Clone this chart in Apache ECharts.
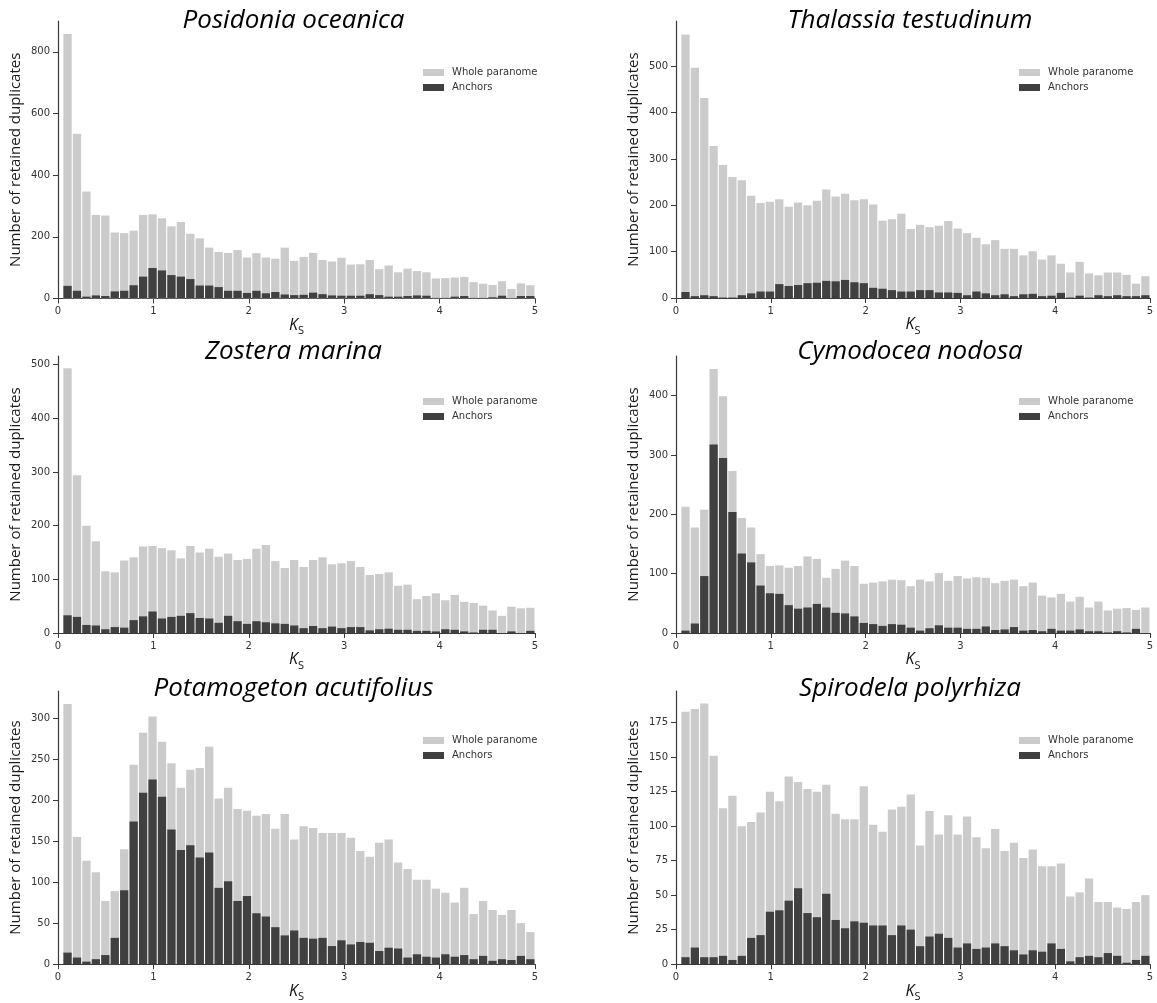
<!DOCTYPE html>
<html>
<head>
<meta charset="utf-8">
<script src="https://cdn.jsdelivr.net/npm/echarts@6/dist/echarts.min.js"></script>
<style>
html,body{margin:0;padding:0;background:#ffffff;}
#chart{width:1157px;height:1003px;}
</style>
</head>
<body>
<div id="chart"></div>
<script>
// Ks bin centres (50 bins between ~0.05 and 5)
const ksBins = [0.100,0.199,0.298,0.397,0.496,0.595,0.694,0.793,0.892,0.991,
                1.090,1.189,1.288,1.387,1.486,1.585,1.684,1.783,1.882,1.981,
                2.080,2.179,2.278,2.377,2.476,2.575,2.674,2.773,2.872,2.971,
                3.070,3.169,3.268,3.367,3.466,3.565,3.664,3.763,3.862,3.961,
                4.060,4.159,4.258,4.357,4.456,4.555,4.654,4.753,4.852,4.951];
const xTicks = [0,1,2,3,4,5];

const speciesNames = ['Posidonia oceanica','Thalassia testudinum','Zostera marina',
                      'Cymodocea nodosa','Potamogeton acutifolius','Spirodela polyrhiza'];
const seriesNames = ['Whole paranome','Anchors'];

const posidoniaWhole = [858,534,347,271,269,214,212,220,271,273,260,234,248,210,195,165,151,148,157,133,147,133,129,165,122,135,148,125,120,132,110,111,125,95,107,85,97,89,85,65,66,68,70,53,48,44,56,31,49,43];
const posidoniaAnchors = [41,25,6,10,8,23,25,43,71,99,91,76,71,63,42,42,37,25,25,18,25,17,21,13,11,12,19,14,10,9,9,9,14,11,6,6,8,10,9,2,2,6,8,2,2,4,9,1,8,8];
const posidoniaTicks = [0,200,400,600,800];

const thalassiaWhole = [569,497,432,328,287,261,254,221,205,208,213,197,206,200,210,234,219,225,211,213,202,167,170,182,149,158,153,156,166,150,140,130,116,125,106,106,92,101,83,92,74,55,78,53,49,55,55,50,31,47];
const thalassiaAnchors = [13,4,6,4,1,1,6,10,14,14,30,26,28,32,33,37,36,39,34,32,22,20,17,14,14,17,17,12,12,11,6,14,10,6,8,4,8,9,4,5,11,1,5,1,6,4,6,4,4,6];
const thalassiaTicks = [0,100,200,300,400,500];

const zosteraWhole = [493,294,200,171,115,113,135,141,161,162,158,154,139,162,150,157,142,148,136,138,157,164,134,121,136,123,136,141,128,130,134,123,108,110,113,88,90,63,69,74,61,71,58,56,51,42,32,49,46,47];
const zosteraAnchors = [33,30,15,14,7,11,10,24,31,40,27,30,32,37,28,27,19,32,22,17,22,20,18,17,14,9,13,9,12,9,11,11,5,7,8,6,6,4,4,3,7,6,3,1,6,6,0,3,0,4];
const zosteraTicks = [0,100,200,300,400,500];

const cymodoceaWhole = [213,178,208,445,399,273,194,178,133,113,114,110,113,129,125,93,108,122,113,83,85,87,90,89,79,90,87,101,88,96,92,94,93,84,88,90,79,85,63,60,66,53,61,43,53,38,41,42,39,43];
const cymodoceaAnchors = [4,16,96,318,295,204,134,119,80,67,66,47,41,43,49,43,34,33,28,17,15,12,15,14,9,4,8,13,9,9,7,7,11,5,6,10,4,5,3,7,4,4,6,3,3,1,3,1,7,0];
const cymodoceaTicks = [0,100,200,300,400];

const potamogetonWhole = [317,155,126,112,77,89,140,243,282,302,271,245,215,237,239,265,202,215,189,187,181,183,165,183,152,168,166,160,160,160,154,138,131,148,152,124,116,103,103,92,87,75,93,61,77,66,60,66,50,39];
const potamogetonAnchors = [14,8,3,6,11,32,90,174,209,225,204,164,139,145,130,136,93,101,77,83,62,58,45,35,41,32,31,32,22,29,24,27,26,16,20,19,8,12,9,8,12,9,11,6,10,4,6,5,10,6];
const potamogetonTicks = [0,50,100,150,200,250,300];

const spirodelaWhole = [183,185,189,151,113,122,100,103,110,125,118,136,132,127,125,130,109,105,105,129,101,96,112,114,123,86,111,94,108,94,107,92,84,98,82,88,77,83,71,71,73,49,52,62,45,45,41,40,45,50];
const spirodelaAnchors = [5,12,5,5,6,3,6,19,21,38,39,46,55,37,34,51,32,26,31,30,28,28,21,28,25,13,20,22,19,12,15,11,12,15,13,10,7,10,9,15,11,2,5,6,5,8,6,1,3,6];
const spirodelaTicks = [0,25,50,75,100,125,150,175];

// layout (pixels) for each panel
const panels = [
  {name: speciesNames[0], whole: posidoniaWhole, anchors: posidoniaAnchors, ticks: posidoniaTicks, yMax: 900,
   grid: {left: 58, top: 21, width: 477, height: 277.5}, legend: {left: 423, top: 66.5}, titleTop: 8},
  {name: speciesNames[1], whole: thalassiaWhole, anchors: thalassiaAnchors, ticks: thalassiaTicks, yMax: 598,
   grid: {left: 676, top: 21, width: 474, height: 277}, legend: {left: 1019, top: 66.5}, titleTop: 8},
  {name: speciesNames[2], whole: zosteraWhole, anchors: zosteraAnchors, ticks: zosteraTicks, yMax: 516,
   grid: {left: 58, top: 356, width: 477, height: 277}, legend: {left: 423, top: 395.5}, titleTop: 339},
  {name: speciesNames[3], whole: cymodoceaWhole, anchors: cymodoceaAnchors, ticks: cymodoceaTicks, yMax: 467,
   grid: {left: 676, top: 356, width: 474, height: 277}, legend: {left: 1019, top: 395.5}, titleTop: 339},
  {name: speciesNames[4], whole: potamogetonWhole, anchors: potamogetonAnchors, ticks: potamogetonTicks, yMax: 333,
   grid: {left: 58, top: 691, width: 477, height: 277}, legend: {left: 423, top: 734.5}, titleTop: 676},
  {name: speciesNames[5], whole: spirodelaWhole, anchors: spirodelaAnchors, ticks: spirodelaTicks, yMax: 198,
   grid: {left: 676, top: 691, width: 474, height: 277}, legend: {left: 1019, top: 734.5}, titleTop: 676}
];

const axisColor = '#3a3a3a';
const tickFont = 'DejaVu Sans';
const lightGrey = '#cbcbcb';
const darkGrey = '#404040';

const option = {
  animation: false,
  backgroundColor: '#ffffff',
  title: [], grid: [], xAxis: [], yAxis: [], legend: [], series: []
};

panels.forEach((p, i) => {
  option.grid.push(Object.assign({containLabel: false}, p.grid));
  option.title.push({
    text: p.name,
    left: p.grid.left + p.grid.width / 2 - 3,
    top: p.titleTop,
    padding: 0,
    textAlign: 'center',
    textStyle: {fontFamily: 'Open Sans', fontStyle: 'italic', fontWeight: 'normal', fontSize: 26, color: '#000000'}
  });
  option.xAxis.push({
    type: 'value', gridIndex: i, min: 0, max: 5, interval: 1,
    name: '{k|K}{s|S}', nameLocation: 'middle', nameGap: 10,
    nameTextStyle: {
      rich: {
        k: {fontFamily: 'Open Sans', fontStyle: 'italic', fontSize: 16, color: '#111', verticalAlign: 'bottom', padding: [0, 0, 3, 0]},
        s: {fontFamily: 'Open Sans', fontSize: 11, color: '#111', verticalAlign: 'bottom'}
      }
    },
    axisLine: {show: true, onZero: false, lineStyle: {color: axisColor, width: 1.2}},
    axisTick: {show: true, length: 5, lineStyle: {color: axisColor, width: 1}, customValues: xTicks},
    axisLabel: {fontFamily: tickFont, fontSize: 10, color: '#333', margin: 8, customValues: xTicks},
    splitLine: {show: false}
  });
  option.yAxis.push({
    type: 'value', gridIndex: i, min: 0, max: p.yMax,
    name: 'Number of retained duplicates', nameLocation: 'middle', nameGap: 35,
    nameTextStyle: {fontFamily: 'Open Sans', fontSize: 15, color: '#1a1a1a'},
    axisLine: {show: true, lineStyle: {color: axisColor, width: 1.2}},
    axisTick: {show: true, length: 5, lineStyle: {color: axisColor, width: 1}, customValues: p.ticks},
    axisLabel: {fontFamily: tickFont, fontSize: 10, color: '#333', margin: 8, customValues: p.ticks},
    splitLine: {show: false}
  });
  option.legend.push({
    orient: 'vertical', left: p.legend.left, top: p.legend.top, padding: 0,
    itemWidth: 21, itemHeight: 7, itemGap: 3, icon: 'rect', selectedMode: false,
    data: seriesNames,
    textStyle: {fontFamily: tickFont, fontSize: 10, color: '#333', lineHeight: 12, padding: [0, 0, 0, 3]}
  });
  option.series.push({
    type: 'bar', name: seriesNames[0], xAxisIndex: i, yAxisIndex: i,
    data: ksBins.map((k, j) => [k, p.whole[j]]),
    barWidth: '88%', barGap: '-100%', silent: true,
    itemStyle: {color: lightGrey}
  });
  option.series.push({
    type: 'bar', name: seriesNames[1], xAxisIndex: i, yAxisIndex: i,
    data: ksBins.map((k, j) => [k, p.anchors[j]]),
    barWidth: '88%', barGap: '-100%', silent: true,
    itemStyle: {color: darkGrey}
  });
});

const chart = echarts.init(document.getElementById('chart'), null, {renderer: 'canvas'});
chart.setOption(option);
</script>
</body>
</html>
